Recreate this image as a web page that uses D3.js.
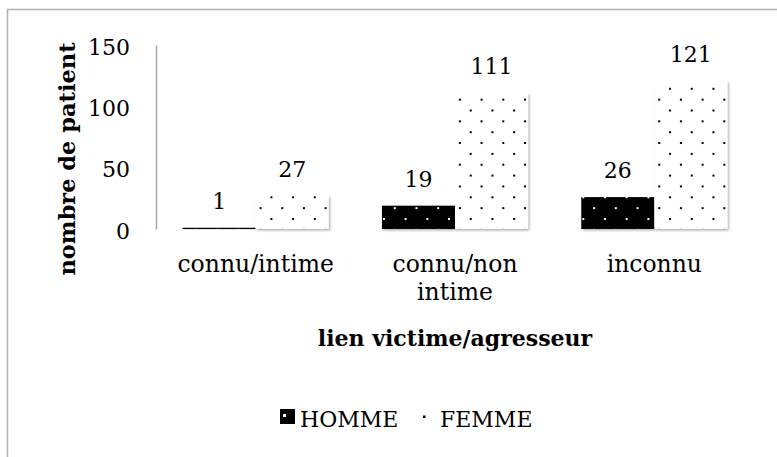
<!DOCTYPE html>
<html>
<head>
<meta charset="utf-8">
<script src="https://cdn.jsdelivr.net/npm/d3@7"></script>
<style>
  body { margin: 0; background: #fff; }
  svg { display: block; font-family: "DejaVu Serif", serif; }
</style>
</head>
<body>
<svg></svg>
<script>
const categories = [["connu/intime"], ["connu/non", "intime"], ["inconnu"]]
const series = ["HOMME", "FEMME"]
const homme = [1, 19, 26]
const femme = [27, 111, 121]
const yTicks = [0, 50, 100, 150]

const width = 777, height = 457

const svg = d3.select("svg")
  .attr("width", width)
  .attr("height", height)

const defs = svg.append("defs")

// soft shadow like the office charts
const shadow = defs.append("filter")
  .attr("id", "shadow")
  .attr("x", "-10%").attr("y", "-10%")
  .attr("width", "130%").attr("height", "130%")
shadow.append("feDropShadow")
  .attr("dx", 1.5).attr("dy", 1.5)
  .attr("stdDeviation", 1)
  .attr("flood-color", "#000")
  .attr("flood-opacity", 0.3)

// dotted patterns: black dots on white, white dots on black
const makeDots = function (id, bg, fg) {
  const p = defs.append("pattern")
    .attr("id", id)
    .attr("patternUnits", "userSpaceOnUse")
    .attr("width", 21.7)
    .attr("height", 21.7)
  p.append("rect").attr("width", 21.7).attr("height", 21.7).attr("fill", bg)
  p.append("rect").attr("x", 1).attr("y", 1).attr("width", 2).attr("height", 2).attr("fill", fg)
  p.append("rect").attr("x", 11.85).attr("y", 11.85).attr("width", 2).attr("height", 2).attr("fill", fg)
}
makeDots("dotsH", "#000", "#fff")
makeDots("dotsF", "#fff", "#000")
const fills = ["url(#dotsH)", "url(#dotsF)"]

// outer frame
svg.append("rect")
  .attr("x", 7.5).attr("y", 9.5)
  .attr("width", width + 10).attr("height", height + 10)
  .attr("fill", "none")
  .attr("stroke", "#b0b0b0")
  .attr("stroke-width", 1.5)

const margin = { left: 156, right: 23, top: 45, bottom: 228 }

const x0 = d3.scaleBand()
  .domain(d3.range(categories.length))
  .range([margin.left, width - margin.right])
  .paddingInner(0.267)
  .paddingOuter(0.1335)

const x1 = d3.scaleBand()
  .domain(series)
  .range([0, x0.bandwidth()])

const y = d3.scaleLinear()
  .domain([0, 150])
  .range([height - margin.bottom, margin.top])

const table = categories.map((c, i) => ({ i, values: [homme[i], femme[i]] }))

// bars
const groups = svg.append("g")
  .selectAll("g")
  .data(table)
  .join("g")
  .attr("transform", d => `translate(${x0(d.i)},0)`)

groups.selectAll("rect")
  .data(d => d.values.map((v, k) => ({ k, v })))
  .join("rect")
  .attr("x", d => x1(series[d.k]))
  .attr("y", d => y(d.v))
  .attr("width", x1.bandwidth())
  .attr("height", d => y(0) - y(d.v))
  .attr("fill", d => fills[d.k])
  .attr("filter", "url(#shadow)")

// value labels
groups.selectAll("text")
  .data(d => d.values.map((v, k) => ({ k, v })))
  .join("text")
  .attr("x", d => x1(series[d.k]) + x1.bandwidth() / 2)
  .attr("y", d => y(d.v) - 19)
  .attr("text-anchor", "middle")
  .attr("font-size", 22)
  .attr("fill", "#000")
  .text(d => d.v)

// y axis
const yAxis = svg.append("g")
  .attr("transform", `translate(${margin.left},0)`)
  .call(d3.axisLeft(y).tickValues(yTicks).tickSize(0).tickPadding(26))
yAxis.select(".domain").attr("stroke", "#a6a6a6").attr("stroke-width", 1.5)
yAxis.selectAll("text")
  .attr("font-size", 22)
  .attr("font-family", "DejaVu Serif, serif")
  .attr("fill", "#000")
  .attr("dy", "0.42em")

// x axis baseline
const xAxis = svg.append("g")
  .attr("transform", `translate(0,${y(0)})`)
  .call(d3.axisBottom(x0).tickSize(0).tickFormat(""))
xAxis.select(".domain")
  .attr("stroke", "#8c8c8c")
  .attr("stroke-width", 2)
  .attr("filter", "url(#shadow)")

// category labels
svg.append("g")
  .selectAll("text")
  .data(table)
  .join("text")
  .attr("x", d => x0(d.i) + x0.bandwidth() / 2)
  .attr("y", 272)
  .attr("text-anchor", "middle")
  .attr("font-size", 23.5)
  .attr("fill", "#000")
  .selectAll("tspan")
  .data(d => categories[d.i])
  .join("tspan")
  .attr("x", function () { return this.parentNode.getAttribute("x") })
  .attr("dy", (d, k) => k === 0 ? 0 : 28)
  .text(d => d)

// axis titles
svg.append("text")
  .attr("x", 455)
  .attr("y", 346)
  .attr("text-anchor", "middle")
  .attr("font-size", 22)
  .attr("font-weight", "bold")
  .text("lien victime/agresseur")

svg.append("text")
  .attr("transform", "translate(75,159) rotate(-90)")
  .attr("text-anchor", "middle")
  .attr("font-size", 22.5)
  .attr("font-weight", "bold")
  .text("nombre de patient")

// legend
const legend = svg.append("g")
legend.append("rect")
  .attr("x", 280).attr("y", 409)
  .attr("width", 15).attr("height", 15)
  .attr("fill", "#000")
legend.append("rect")
  .attr("x", 283).attr("y", 414)
  .attr("width", 3).attr("height", 3)
  .attr("fill", "#fff")
legend.append("rect")
  .attr("x", 423).attr("y", 415.5)
  .attr("width", 2.5).attr("height", 2.5)
  .attr("fill", "#000")
legend.selectAll("text.lg")
  .data(series)
  .join("text")
  .attr("class", "lg")
  .attr("x", (d, k) => k === 0 ? 300 : 440)
  .attr("y", 427)
  .attr("font-size", 22)
  .text(d => d)
</script>
</body>
</html>
